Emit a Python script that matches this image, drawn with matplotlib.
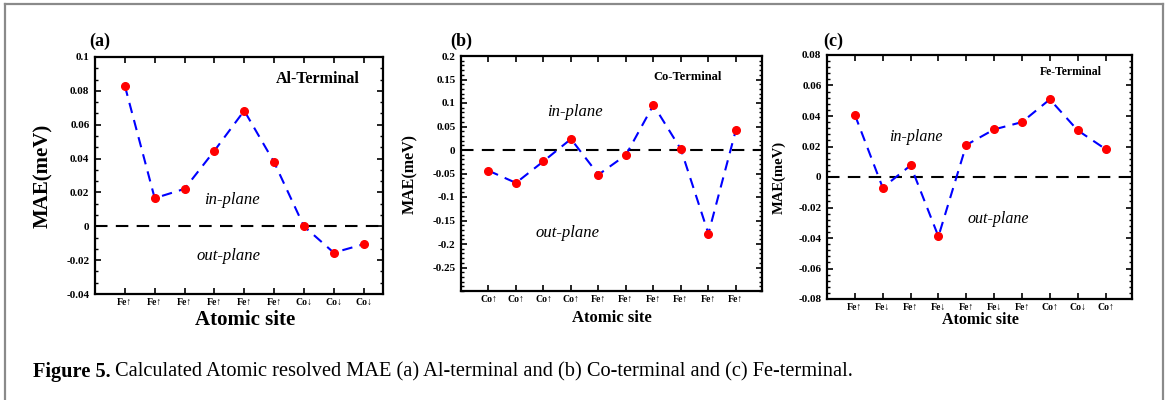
import matplotlib
matplotlib.use("Agg")
import matplotlib.pyplot as plt
from matplotlib.lines import Line2D
from matplotlib.ticker import MultipleLocator, AutoMinorLocator

plt.rcParams["font.family"] = ["Liberation Serif", "DejaVu Serif"]

W, H = 1168, 400

# --- data ---
sites_a = ["Fe↑", "Fe↑", "Fe↑", "Fe↑", "Fe↑", "Fe↑", "Co↓", "Co↓", "Co↓"]
mae_a = [0.083, 0.0166, 0.0221, 0.0446, 0.0683, 0.0379, 0.0, -0.0156, -0.0106]

sites_b = ["Co↑", "Co↑", "Co↑", "Co↑", "Fe↑", "Fe↑", "Fe↑", "Fe↑", "Fe↑", "Fe↑"]
mae_b = [-0.044, -0.070, -0.024, 0.0234, -0.0525, -0.0106, 0.0958, 0.0014, -0.178, 0.0426]

sites_c = ["Fe↑", "Fe↓", "Fe↑", "Fe↓", "Fe↑", "Fe↓", "Fe↑", "Co↑", "Co↓", "Co↑"]
mae_c = [0.0408, -0.007, 0.0076, -0.039, 0.021, 0.0312, 0.036, 0.0509, 0.0306, 0.0183]

panels = [
    dict(tag="(a)", sites=sites_a, vals=mae_a, box=(95, 383, 57, 294), ylim=(-0.04, 0.1),
         major=0.02, nminor=3, xmax=9.65, term="Al-Terminal", term_fs=11.5, term_pos=(0.774, 0.907),
         inp=(0.476, 0.397), outp=(0.465, 0.160), tag_x=100, ylab_x=43, ylab_fs=15,
         xlab=(245, 320), xlab_fs=15, plane_fs=12),
    dict(tag="(b)", sites=sites_b, vals=mae_b, box=(461, 762, 56, 291), ylim=(-0.3, 0.2),
         major=0.05, nminor=5, xmax=10.95, term="Co-Terminal", term_fs=9, term_pos=(0.754, 0.911),
         inp=(0.379, 0.762), outp=(0.355, 0.247), tag_x=461, ylab_x=410, ylab_fs=11.5,
         xlab=(612, 318), xlab_fs=12, plane_fs=12),
    dict(tag="(c)", sites=sites_c, vals=mae_c, box=(827, 1132, 55, 299), ylim=(-0.08, 0.08),
         major=0.02, nminor=5, xmax=10.95, term="Fe-Terminal", term_fs=8.5, term_pos=(0.80, 0.930),
         inp=(0.292, 0.664), outp=(0.561, 0.328), tag_x=833, ylab_x=779, ylab_fs=10.5,
         xlab=(980, 320), xlab_fs=11.5, plane_fs=11.5),
]


def fmt(v):
    s = f"{v:.2f}".rstrip("0").rstrip(".")
    if s in ("-0", ""):
        s = "0"
    return s


fig = plt.figure(figsize=(W / 100, H / 100), dpi=100)

for p in panels:
    l, r, t, b = p["box"]
    ax = fig.add_axes([l / W, 1 - b / H, (r - l) / W, (b - t) / H])
    x = list(range(1, len(p["vals"]) + 1))

    ax.axhline(0, color="black", lw=1.5, ls=(0, (6, 4)), zorder=1)
    ax.plot(x, p["vals"], color="blue", lw=1.5, ls=(0, (5, 3.5)), zorder=2)
    ax.plot(x, p["vals"], "o", color="red", ms=5.5, zorder=3)

    ax.set_xlim(0, p["xmax"])
    ax.set_ylim(*p["ylim"])
    ax.set_xticks(x)
    ax.set_xticklabels(p["sites"], fontsize=7, fontweight="bold")
    ax.yaxis.set_major_locator(MultipleLocator(p["major"]))
    ax.yaxis.set_minor_locator(AutoMinorLocator(p["nminor"]))
    lo, hi = p["ylim"]
    yt = [v for v in ax.get_yticks() if lo - 1e-9 <= v <= hi + 1e-9]
    if p["tag"] == "(b)":
        yt = [v for v in yt if v > lo + 1e-9]
    ax.set_yticks(yt)
    ax.set_yticklabels([fmt(v) for v in yt], fontsize=8, fontweight="bold")

    ax.tick_params(axis="both", which="major", direction="in", length=4, width=1.2,
                   top=True, right=True, pad=3)
    ax.tick_params(axis="y", which="minor", direction="in", length=2.5, width=1.0,
                   right=True, left=True)
    ax.tick_params(axis="x", which="minor", bottom=False, top=False)
    ax.tick_params(axis="y", which="major", pad=4)
    for s in ax.spines.values():
        s.set_linewidth(1.6)

    ax.text(*p["term_pos"], p["term"], transform=ax.transAxes, ha="center", va="center",
            fontsize=p["term_fs"], fontweight="bold")
    ax.text(*p["inp"], "in-plane", transform=ax.transAxes, ha="center", va="center",
            fontsize=p["plane_fs"], style="italic")
    ax.text(*p["outp"], "out-plane", transform=ax.transAxes, ha="center", va="center",
            fontsize=p["plane_fs"], style="italic")

    fig.text(p["tag_x"] / W, 1 - 41 / H, p["tag"], ha="center", va="center",
             fontsize=13, fontweight="bold")
    fig.text(p["ylab_x"] / W, 1 - ((t + b) / 2) / H, "MAE(meV)", rotation=90,
             ha="center", va="center", fontsize=p["ylab_fs"], fontweight="bold")
    fig.text(p["xlab"][0] / W, 1 - p["xlab"][1] / H, "Atomic site", ha="center",
             va="center", fontsize=p["xlab_fs"], fontweight="bold")

# caption
cap_y = 1 - 372 / H
t1 = fig.text(33 / W, cap_y, "Figure 5.", ha="left", va="center", fontsize=14.7,
              fontweight="bold")
fig.canvas.draw()
bb = t1.get_window_extent()
fig.text((bb.x1 + 4) / W, cap_y,
         "Calculated Atomic resolved MAE (a) Al-terminal and (b) Co-terminal and (c) Fe-terminal.",
         ha="left", va="center", fontsize=14.7)

# page frame
gray = "#8a8a8a"
fig.add_artist(Line2D([5 / W, 1163 / W], [1 - 4 / H, 1 - 4 / H], color=gray, lw=1.6))
fig.add_artist(Line2D([5 / W, 5 / W], [1 - 4 / H, 0], color=gray, lw=1.6))
fig.add_artist(Line2D([1163 / W, 1163 / W], [1 - 4 / H, 0], color=gray, lw=1.6))

fig.savefig("out.png", dpi=100)
